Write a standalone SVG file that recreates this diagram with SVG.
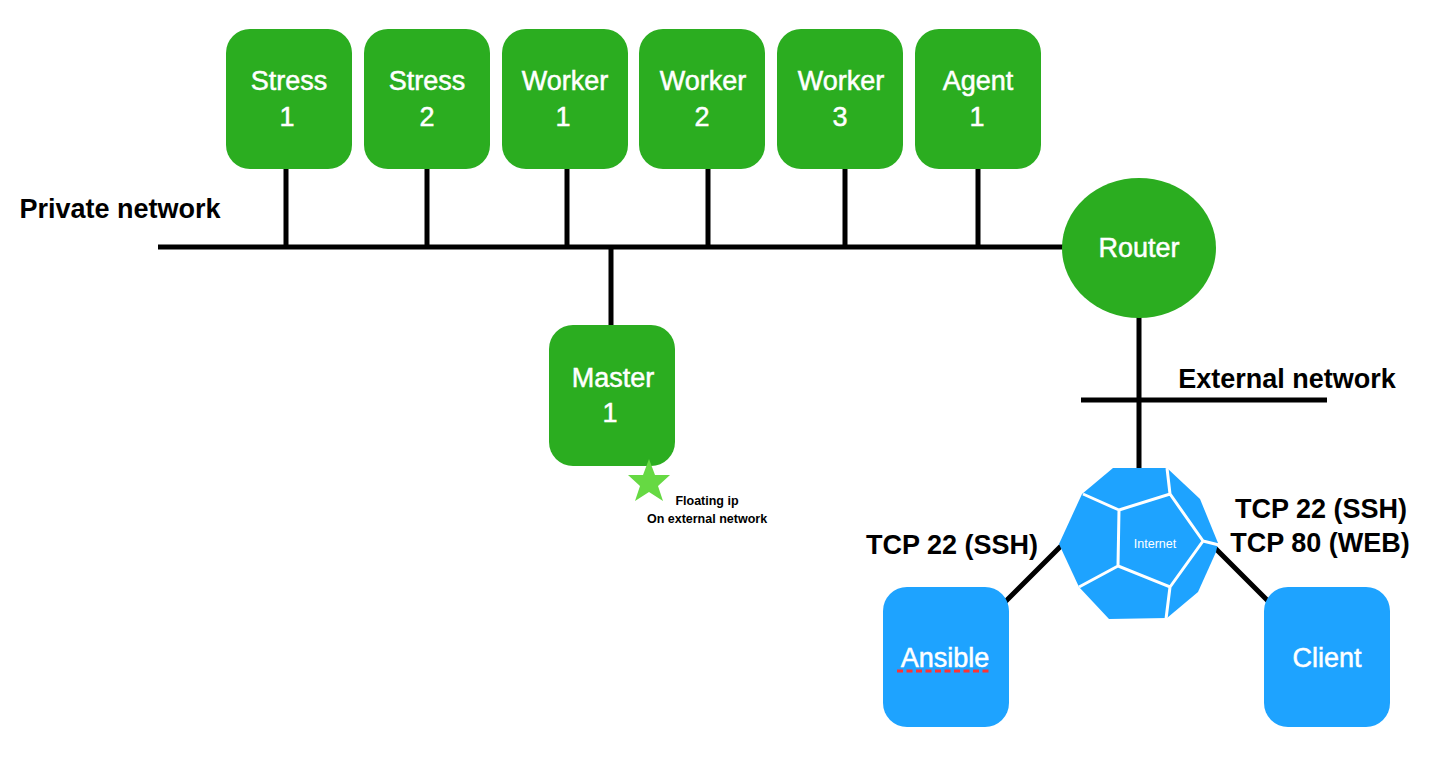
<svg xmlns="http://www.w3.org/2000/svg" width="1454" height="766" viewBox="0 0 1454 766">
<style>
text{font-family:"Liberation Sans",Arial,sans-serif;text-anchor:middle}
.g{fill:#2bad20}
.b{fill:#1ea3ff}
.n{fill:#fff;font-size:27px;font-weight:400;stroke:#fff;stroke-width:.5px}
.l{fill:#000;font-size:27px;font-weight:700}
.s{fill:#000;font-size:12.5px;font-weight:700}
.c{stroke:#000;stroke-width:5;fill:none}
.w{stroke:#fff;stroke-width:3;fill:none}
</style>
<rect width="1454" height="766" fill="#fff"/>
<g id="connectors">
<path class="c" d="M158 247H1065M286 165V247M427 165V247M567 165V247M708 165V247M845 165V247M978 165V247M611 247V332M1139 315V470M1081 400H1327M1061 546L1004 603M1215 548L1268 601"/>
</g>
<g id="stress1"><rect class="g" x="226" y="29" width="126" height="140" rx="24"/><text class="n" x="289" y="90">Stress</text><text class="n" x="287" y="126">1</text></g>
<g id="stress2"><rect class="g" x="364" y="29" width="126" height="140" rx="24"/><text class="n" x="427" y="90">Stress</text><text class="n" x="427" y="126">2</text></g>
<g id="worker1"><rect class="g" x="502" y="29" width="126" height="140" rx="24"/><text class="n" x="565" y="90">Worker</text><text class="n" x="563" y="126">1</text></g>
<g id="worker2"><rect class="g" x="639" y="29" width="126" height="140" rx="24"/><text class="n" x="703" y="90">Worker</text><text class="n" x="702" y="126">2</text></g>
<g id="worker3"><rect class="g" x="777" y="29" width="126" height="140" rx="24"/><text class="n" x="841" y="90">Worker</text><text class="n" x="840" y="126">3</text></g>
<g id="agent1"><rect class="g" x="915" y="29" width="126" height="140" rx="24"/><text class="n" x="978" y="90">Agent</text><text class="n" x="977" y="126">1</text></g>
<g id="master1"><rect class="g" x="549" y="325" width="126" height="141" rx="24"/><text class="n" x="613" y="387">Master</text><text class="n" x="610" y="422">1</text></g>
<g id="router"><ellipse class="g" cx="1139" cy="248" rx="77" ry="70"/><text class="n" x="1139" y="257">Router</text></g>
<g id="floating-ip"><polygon fill="#66d943" points="649,459 655,475 670,475 658,486 663,501 649,492 635,501 640,486 628,475 643,475"/><text class="s" x="707" y="505">Floating ip</text><text class="s" x="707" y="523">On external network</text></g>
<g id="internet">
<polygon class="b" points="1113,468 1167,468 1200,499 1218,543 1216,552 1198,592 1167,618 1109,619 1079,587 1059,544 1082,494"/>
<path class="w" d="M1119,510 1170,494 1203,541 1170,587 1118,566ZM1119,510 1083,494M1170,494 1167,468M1203,541 1219,545M1170,587 1166,619M1118,566 1079,587"/>
<text x="1155" y="548" fill="#fff" font-size="12.5">Internet</text>
</g>
<g id="ansible"><rect class="b" x="883" y="587" width="126" height="140" rx="24"/><text class="n" x="945" y="667">Ansible</text><path d="M897 671H992" stroke="#f33" stroke-width="3" stroke-dasharray="6 3.5" fill="none"/></g>
<g id="client"><rect class="b" x="1264" y="587" width="126" height="140" rx="24"/><text class="n" x="1327" y="667">Client</text></g>
<g id="labels">
<text class="l" x="120" y="218">Private network</text>
<text class="l" x="1287" y="388">External network</text>
<text class="l" x="952" y="554">TCP 22 (SSH)</text>
<text class="l" x="1321" y="518">TCP 22 (SSH)</text>
<text class="l" x="1320" y="552">TCP 80 (WEB)</text>
</g>
</svg>
